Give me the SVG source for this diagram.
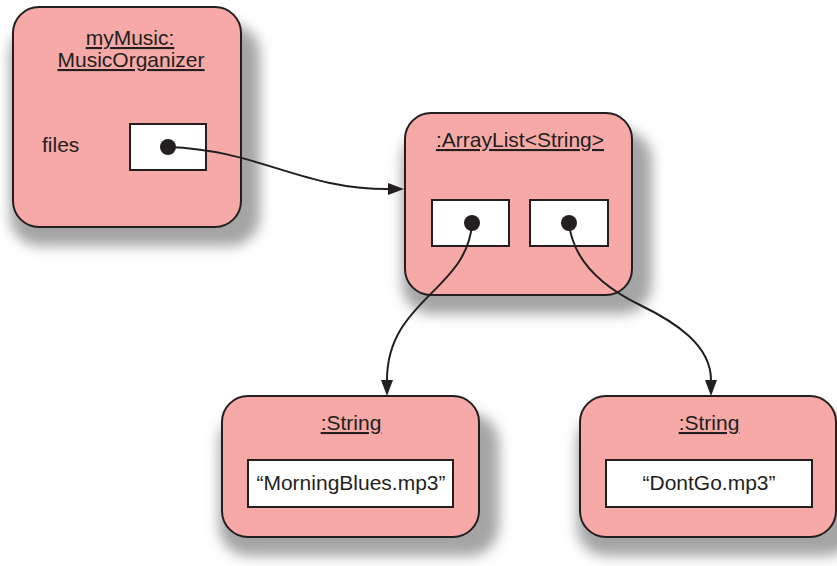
<svg xmlns="http://www.w3.org/2000/svg" width="837" height="566" viewBox="0 0 837 566">
  <defs>
    <filter id="soft" x="-25%" y="-25%" width="150%" height="150%">
      <feGaussianBlur stdDeviation="6.5"/>
    </filter>
    <marker id="arrow" markerUnits="userSpaceOnUse" markerWidth="16" markerHeight="12" refX="0" refY="6" orient="auto">
      <path d="M0,0 L16,6 L0,12 z" fill="#231f20"/>
    </marker>
  </defs>
  <style>
    .shadow { fill: #a4a4a4; filter: url(#soft); }
    .obj { fill: #f6a9a6; stroke: #231f20; stroke-width: 2; }
    .slot { fill: #ffffff; stroke: #231f20; stroke-width: 2; }
    .dot { fill: #231f20; }
    text { font-family: "Liberation Sans", Arial, Helvetica, sans-serif; font-size: 21px; fill: #231f20; }
    .title { text-anchor: middle; text-decoration: underline; }
    .mid { text-anchor: middle; }
    .link { fill: none; stroke: #231f20; stroke-width: 2; marker-end: url(#arrow); }
  </style>
  <rect width="837" height="566" fill="#ffffff"/>

  <!-- object: myMusic -->
  <g id="myMusic">
    <rect class="shadow" x="10" y="24" width="250" height="222" rx="30"/>
    <rect class="obj" x="13" y="7" width="228" height="220" rx="26"/>
    <text class="title" x="130" y="45">myMusic:</text>
    <text class="title" x="131" y="67">MusicOrganizer</text>
    <text x="42" y="152">files</text>
    <rect class="slot" x="130" y="124" width="76" height="46"/>
    <circle class="dot" cx="168" cy="147" r="8"/>
  </g>

  <!-- object: ArrayList -->
  <g id="arrayList">
    <rect class="shadow" x="402" y="130" width="250" height="184" rx="30"/>
    <rect class="obj" x="405" y="113" width="227" height="182" rx="26"/>
    <text class="title" x="520" y="147">:ArrayList&lt;String&gt;</text>
    <rect class="slot" x="432" y="200" width="77" height="46"/>
    <rect class="slot" x="530" y="200" width="78" height="46"/>
    <circle class="dot" cx="472" cy="223" r="8"/>
    <circle class="dot" cx="569" cy="223" r="8"/>
  </g>

  <!-- object: String "MorningBlues.mp3" -->
  <g id="string1">
    <rect class="shadow" x="219" y="413" width="280" height="143" rx="30"/>
    <rect class="obj" x="222" y="396" width="257" height="141" rx="26"/>
    <text class="title" x="351" y="430">:String</text>
    <rect class="slot" x="248" y="460" width="205" height="47"/>
    <text class="mid" x="351" y="490">“MorningBlues.mp3”</text>
  </g>

  <!-- object: String "DontGo.mp3" -->
  <g id="string2">
    <rect class="shadow" x="577" y="413" width="279" height="143" rx="30"/>
    <rect class="obj" x="580" y="396" width="256" height="141" rx="26"/>
    <text class="title" x="709" y="430">:String</text>
    <rect class="slot" x="606" y="460" width="206" height="47"/>
    <text class="mid" x="709" y="490">“DontGo.mp3”</text>
  </g>

  <!-- references -->
  <g id="connectors">
    <path class="link" d="M168,147 C260,150 300,189 388,189"/>
    <path class="link" d="M472,223 C468,290 387,300 387,380"/>
    <path class="link" d="M569,223 C573,262 605,288 640,305 S711,345 711,380"/>
  </g>
</svg>
